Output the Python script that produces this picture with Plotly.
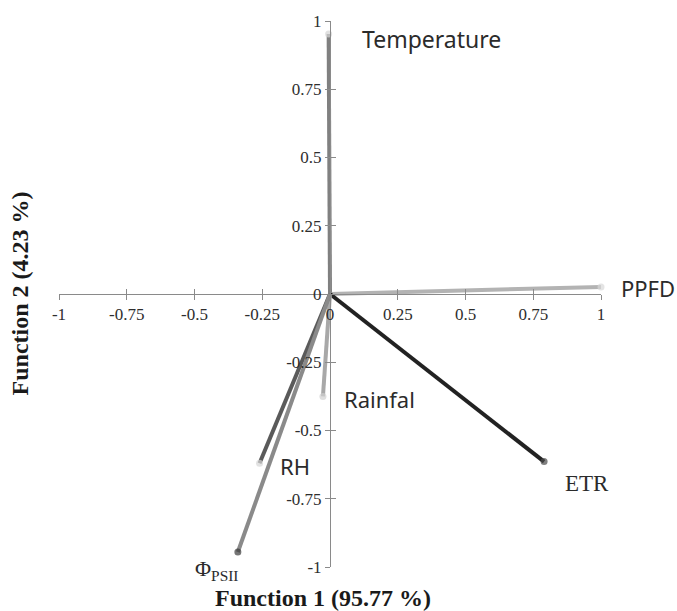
import plotly.graph_objects as go

# Discriminant function loadings (structure coefficients) for each variable
variables = ["Temperature", "PPFD", "ETR", "Rainfal", "RH", "Φ<sub>PSII</sub>"]
function1 = [-0.005, 1.0, 0.79, -0.026, -0.26, -0.34]
function2 = [0.952, 0.026, -0.614, -0.375, -0.62, -0.945]

tick_vals = [-1, -0.75, -0.5, -0.25, 0, 0.25, 0.5, 0.75, 1]
tick_text = ["-1", "-0.75", "-0.5", "-0.25", "0", "0.25", "0.5", "0.75", "1"]

# Styling per vector: line colour, end-point colour, label font, label offset (px)
line_colors = ["#808080", "#b3b3b3", "#222222", "#a8a8a8", "#5a5a5a", "#8a8a8a"]
end_colors = ["#d4d4d4", "#d8d8d8", "#4a4a4a", "#d0d0d0", "#d6d6d6", "#3c3c3c"]
label_fonts = ["Noto Sans", "Noto Sans", "Liberation Serif", "Noto Sans", "Noto Sans", "Liberation Serif"]
label_sizes = [23, 22, 23, 22, 22, 22]
label_shift = [(103, -5), (47, -1), (43, -22), (57, -3), (35, -3), (-21, -18)]

fig = go.Figure()

for name, fx, fy, lc, ec in zip(variables, function1, function2, line_colors, end_colors):
    fig.add_trace(go.Scatter(
        x=[0, fx], y=[0, fy],
        mode="lines+markers",
        line=dict(color=lc, width=4),
        marker=dict(size=[0, 7], color=ec, line=dict(width=0)),
        hoverinfo="skip", showlegend=False, cliponaxis=False,
    ))

# invisible trace so the overlay axes (cross-tick halves) are drawn
fig.add_trace(go.Scatter(x=[0], y=[0], xaxis="x2", yaxis="y2", mode="markers",
                         marker=dict(size=1, opacity=0), showlegend=False, hoverinfo="skip"))

for name, fx, fy, font, fs, (dx, dy) in zip(variables, function1, function2, label_fonts,
                                           label_sizes, label_shift):
    fig.add_annotation(
        x=fx, y=fy, text=name, showarrow=False, xshift=dx, yshift=dy,
        font=dict(family=font, size=fs, color="#2b2b2b"),
    )

axis_common = dict(range=[-1, 1], tickvals=tick_vals, showgrid=False, zeroline=False,
                   fixedrange=True, anchor="free", position=0.5)
tick_font = dict(family="Liberation Serif", size=17, color="#2e2e2e")

fig.update_layout(
    width=677, height=611,
    margin=dict(l=59, r=76, t=21, b=44),
    paper_bgcolor="white", plot_bgcolor="white",
    xaxis=dict(**axis_common, ticktext=tick_text, showline=True, linecolor="#8a8a8a", linewidth=1,
               ticks="outside", ticklen=5, tickcolor="#8a8a8a", tickfont=tick_font),
    yaxis=dict(**axis_common, ticktext=tick_text, showline=True, linecolor="#8a8a8a", linewidth=1,
               ticks="outside", ticklen=5, tickcolor="#8a8a8a", tickfont=tick_font),
    xaxis2=dict(**axis_common, overlaying="x", showline=False, ticks="inside", ticklen=5,
                tickcolor="#8a8a8a", showticklabels=False),
    yaxis2=dict(**axis_common, overlaying="y", showline=False, ticks="inside", ticklen=5,
                tickcolor="#8a8a8a", showticklabels=False),
)

fig.add_annotation(
    text="<b>Function 1 (95.77 %)</b>", xref="paper", yref="paper", x=0.487, y=0,
    yanchor="middle", yshift=-31, showarrow=False,
    font=dict(family="Liberation Serif", size=24, color="#1a1a1a"),
)
fig.add_annotation(
    text="<b>Function 2 (4.23 %)</b>", xref="paper", yref="paper", x=0, y=0.501,
    xanchor="center", xshift=-39, showarrow=False, textangle=-90,
    font=dict(family="Liberation Serif", size=24, color="#1a1a1a"),
)

fig.write_html("out.html")
